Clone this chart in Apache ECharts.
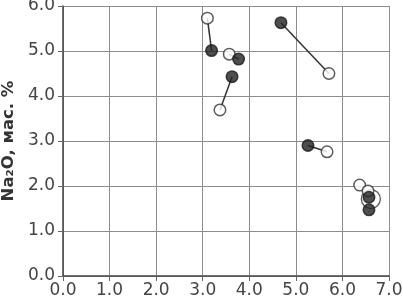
<!DOCTYPE html>
<html><head><meta charset="utf-8">
<script src="https://cdn.jsdelivr.net/npm/echarts@6/dist/echarts.min.js"></script>
<style>html,body{margin:0;padding:0;background:#fff}#c{width:403px;height:307px}</style>
</head><body><div id="c"></div>
<script>
const xTicks = [0,1,2,3,4,5,6,7];
const yTicks = [0,1,2,3,4,5,6];
const filledPts = [[3.19,5.01],[3.77,4.82],[3.63,4.43],[4.68,5.63],[5.26,2.90],[6.57,1.75],[6.57,1.47]];
const openPts = [[3.10,5.73],[3.57,4.93],[3.37,3.69],[5.71,4.50],[5.67,2.76],[6.37,2.02],[6.55,1.89]];
const bigOpenPts = [[6.61,1.71]];
const pairs = [
  [[3.10,5.73],[3.19,5.01]],
  [[3.63,4.43],[3.37,3.69]],
  [[4.68,5.63],[5.71,4.50]],
  [[5.26,2.90],[5.67,2.76]],
  [[3.77,4.82],[3.57,4.93]]
];
const yName = 'Na\u2082O, мас. %';

const chart = echarts.init(document.getElementById('c'), null, {renderer:'canvas'});
const lineSeries = pairs.map(p => ({
  type:'line', data:p, symbol:'none', z:1, silent:true,
  lineStyle:{color:'#333', width:1.5}
}));
const font = 'DejaVu Sans';
chart.setOption({
  animation:false,
  grid:{left:63, right:14, top:6, bottom:31, containLabel:false, outerBoundsMode:'none'},
  xAxis:{
    type:'value', min:xTicks[0], max:xTicks[xTicks.length-1], interval:1,
    axisLine:{show:true, lineStyle:{color:'#444', width:1.5}},
    axisTick:{show:true, length:5, lineStyle:{color:'#666'}},
    splitLine:{show:true, lineStyle:{color:'#8c8c8c', width:1}},
    axisLabel:{formatter:v=>v.toFixed(1), color:'#444', fontFamily:font, fontSize:17, margin:6}
  },
  yAxis:{
    type:'value', min:yTicks[0], max:yTicks[yTicks.length-1], interval:1,
    name:yName, nameLocation:'middle', nameRotate:90, nameGap:46,
    nameTextStyle:{color:'#333', fontFamily:font, fontSize:16.5, fontWeight:'bold'},
    axisLine:{show:true, lineStyle:{color:'#444', width:1.5}},
    axisTick:{show:true, length:5, lineStyle:{color:'#666'}},
    splitLine:{show:true, lineStyle:{color:'#8c8c8c', width:1}},
    axisLabel:{formatter:v=>v.toFixed(1), color:'#444', fontFamily:font, fontSize:17, margin:8}
  },
  series:[
    ...lineSeries,
    {type:'scatter', data:bigOpenPts, symbol:'circle', symbolSize:19, z:2,
     itemStyle:{color:'rgba(255,255,255,0)', borderColor:'#333', borderWidth:1.3}},
    {type:'scatter', data:openPts, symbol:'circle', symbolSize:11.5, z:3,
     itemStyle:{color:'#fff', borderColor:'#333', borderWidth:1.5}},
    {type:'scatter', data:filledPts, symbol:'circle', symbolSize:11.5, z:4,
     itemStyle:{color:'#222', borderColor:'#1a1a1a', borderWidth:1.5}}
  ]
});
</script></body></html>
